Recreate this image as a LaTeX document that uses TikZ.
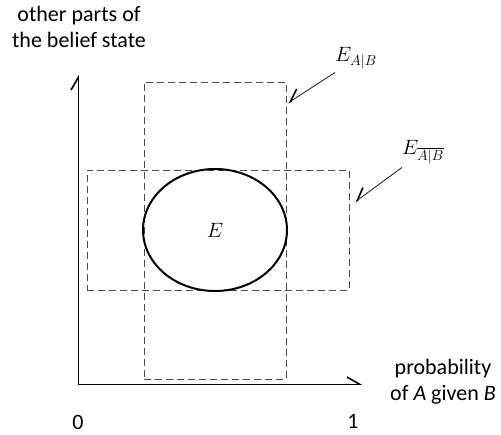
\documentclass[tikz,border=0pt]{standalone}
\usepackage{fontspec}
\setmainfont{Carlito}
\usetikzlibrary{arrows.meta,shapes.geometric}
\definecolor{ink}{HTML}{000000}
\definecolor{dashgray}{HTML}{4A4A4A}

\begin{document}
\begin{tikzpicture}[x=1pt,y=-1pt,>={Straight Barb[left,length=12pt,width=14pt,line width=1.6pt]},
  dashbox/.style={draw=dashgray,dash pattern=on 7pt off 4pt,line width=0.9pt,inner sep=0pt},
  lbl/.style={font=\fontsize{22}{26}\selectfont,align=center}]
\useasboundingbox (0,0) rectangle (501,435);
\node[dashbox,minimum width=142pt,minimum height=297pt] (vbox) at (215,230.5) {};
\node[dashbox,minimum width=262pt,minimum height=120pt] (hbox) at (218,230) {};
\node[draw=ink,ellipse,line width=2pt,minimum width=144pt,minimum height=122pt,inner sep=0pt,font=\fontsize{21}{21}\selectfont] (E) at (215,230) {$E$};
\coordinate (o) at (78,384); \coordinate (ytip) at (78,75); \coordinate (xtip) at (362,384);
\draw[->,ink,line width=0.9pt] (o)--(ytip); \draw[->,ink,line width=0.9pt] (o)--(xtip);
\node[lbl] (ylab) at (79,27) {other parts of\\the belief state};
\node[lbl] (xlab) at (443,382) {probability\\of \textit{A} given \textit{B}};
\node[lbl] (zero) at (78,422) {0};
\node[lbl] (one) at (353,421) {1};
\node[anchor=base west,inner sep=0pt,font=\fontsize{21}{21}\selectfont] (lblAB) at (335,62) {$E_{A|B}$};
\node[anchor=base west,inner sep=0pt,font=\fontsize{21}{21}\selectfont] (lblnAB) at (402,155) {$E_{\overline{A|B}}$};
\coordinate (tipAB) at (288,103); \coordinate (tipnAB) at (355,202);
\draw[{Straight Barb[right,length=12pt,width=14pt,line width=1.6pt]}-,ink,line width=0.7pt] (tipAB)--([yshift=-3pt]lblAB.south west);
\draw[{Straight Barb[right,length=12pt,width=14pt,line width=1.6pt]}-,ink,line width=0.7pt] (tipnAB)--([yshift=-3pt]lblnAB.south west);
\end{tikzpicture}
\end{document}
